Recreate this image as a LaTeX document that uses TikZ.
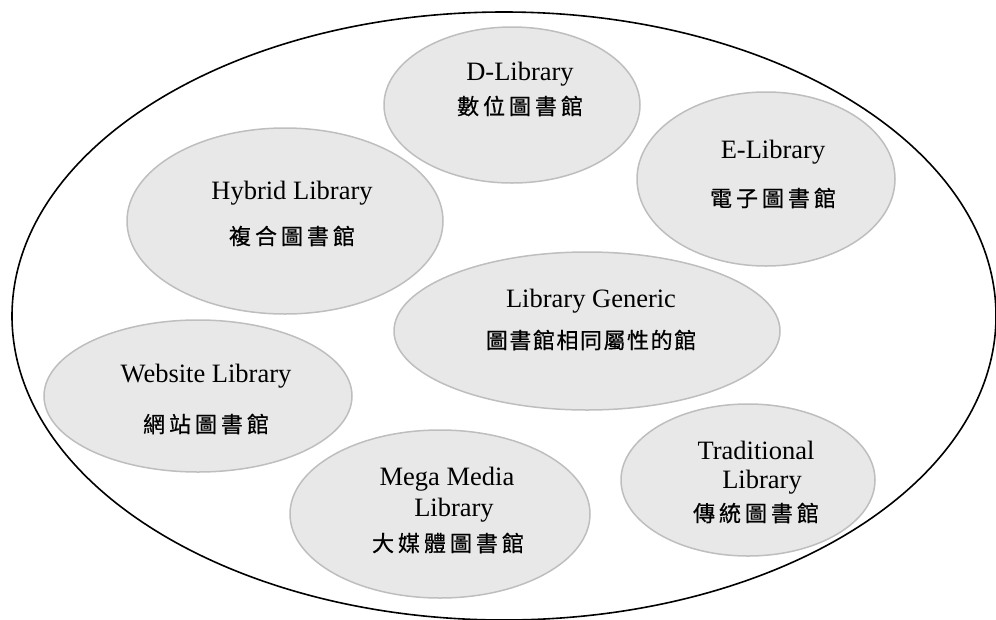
\documentclass[tikz,border=0pt]{standalone}
\usepackage{fontspec}
\setmainfont{Liberation Serif}
\newfontfamily\cjk[LetterSpace=18,FakeBold=0.6]{Noto Sans CJK TC}
\newfontfamily\cjkn[LetterSpace=7,FakeBold=0.6]{Noto Sans CJK TC}
\usetikzlibrary{shapes.geometric}
\definecolor{bubfill}{HTML}{E8E8E8}
\definecolor{bubline}{HTML}{BEBEBE}
\begin{document}
\begin{tikzpicture}[x=1pt,y=-1pt,
  outer/.style={ellipse, draw=black, line width=1.6pt, inner sep=0pt},
  bub/.style={ellipse, draw=bubline, fill=bubfill, line width=1.5pt, inner sep=0pt},
  en/.style={font=\fontsize{26.5}{30}\selectfont, inner sep=0pt},
  zh/.style={font=\cjk\fontsize{22}{26}\selectfont, inner sep=0pt},
  zhn/.style={font=\cjkn\fontsize{22}{26}\selectfont, inner sep=0pt}]
\useasboundingbox (0,0) rectangle (996,619);
\node[outer, minimum width=984pt, minimum height=608pt] (all) at (504,316) {};
\node[bub, minimum width=256pt, minimum height=156pt] (dlib) at (512,105) {};
\node[bub, minimum width=258pt, minimum height=174pt] (elib) at (766,179) {};
\node[bub, minimum width=316pt, minimum height=186pt] (hlib) at (285,221) {};
\node[bub, minimum width=386pt, minimum height=158pt] (glib) at (587,331) {};
\node[bub, minimum width=308pt, minimum height=152pt] (wlib) at (198,396) {};
\node[bub, minimum width=300pt, minimum height=168pt] (mlib) at (440,514) {};
\node[bub, minimum width=254pt, minimum height=152pt] (tlib) at (748,480) {};
% texts
\node[en] (dA) at (520,74) {D-Library};
\node[zh] (dB) at (520,106) {數位圖書館};
\node[en] (hA) at (292,193) {Hybrid Library};
\node[zh] (hB) at (292,236) {複合圖書館};
\node[en] (eA) at (773,152) {E-Library};
\node[zh] (eB) at (773,198) {電子圖書館};
\node[en] (gA) at (591,301) {Library Generic};
\node[zhn] (gB) at (591,340) {圖書館相同屬性的館};
\node[en] (wA) at (206,376) {Website Library};
\node[zh] (wB) at (206,424) {網站圖書館};
\node[en] (mA) at (447,479) {Mega Media};
\node[en] (mB) at (454,510) {Library};
\node[zh] (mC) at (448,543) {大媒體圖書館};
\node[en] (tA) at (756,450) {Traditional};
\node[en] (tB) at (762,482) {Library};
\node[zh] (tC) at (756,513) {傳統圖書館};
\end{tikzpicture}
\end{document}
